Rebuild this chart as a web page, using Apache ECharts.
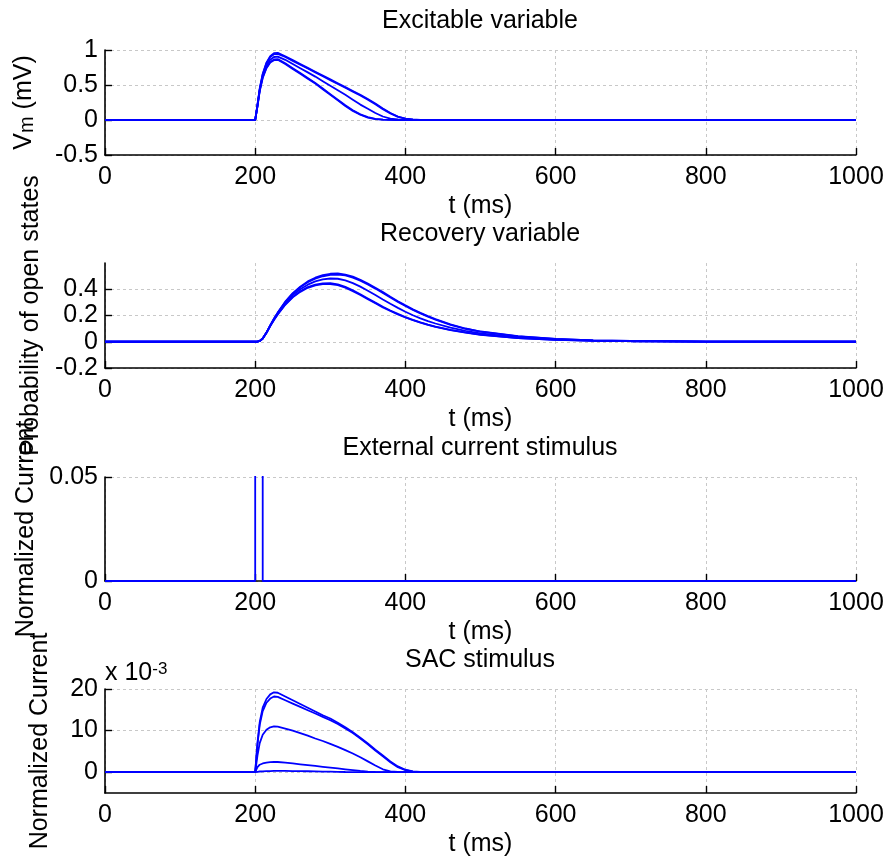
<!DOCTYPE html>
<html><head><meta charset="utf-8">
<script src="https://cdn.jsdelivr.net/npm/echarts@6/dist/echarts.min.js"></script>
<style>html,body{margin:0;padding:0;background:#fff}#c{width:890px;height:856px}</style>
</head><body><div id="c"></div>
<script>
// time points (ms)
const tMs = [0,200,203,206,210,215,220,225,230,240,250,260,270,280,290,300,310,320,330,340,350,360,370,380,390,400,410,420,430,440,460,480,500,550,600,650,700,800,900,1000];
const xTicks = [0,200,400,600,800,1000];

// Excitable variable Vm (mV), five traces
const vmA = [0,0,0.22,0.45,0.66,0.82,0.91,0.955,0.96,0.91,0.855,0.80,0.745,0.69,0.635,0.58,0.525,0.47,0.415,0.36,0.30,0.235,0.165,0.10,0.05,0.02,0.007,0.002,0.001,0,0,0,0,0,0,0,0,0,0,0];
const vmB = [0,0,0.21,0.44,0.65,0.81,0.90,0.94,0.945,0.90,0.845,0.79,0.735,0.68,0.625,0.57,0.515,0.46,0.405,0.35,0.29,0.225,0.155,0.095,0.045,0.018,0.006,0.002,0.001,0,0,0,0,0,0,0,0,0,0,0];
const vmC = [0,0,0.20,0.43,0.63,0.78,0.86,0.90,0.905,0.86,0.80,0.74,0.68,0.62,0.555,0.49,0.425,0.36,0.29,0.22,0.16,0.10,0.05,0.02,0.007,0.002,0,0,0,0,0,0,0,0,0,0,0,0,0,0];
const vmD = [0,0,0.20,0.42,0.61,0.75,0.83,0.865,0.87,0.81,0.74,0.67,0.60,0.53,0.45,0.37,0.29,0.21,0.14,0.08,0.04,0.015,0.005,0.001,0,0,0,0,0,0,0,0,0,0,0,0,0,0,0,0];
const vmE = [0,0,0.19,0.41,0.60,0.74,0.82,0.855,0.86,0.80,0.73,0.66,0.59,0.52,0.44,0.36,0.28,0.20,0.13,0.075,0.035,0.012,0.004,0.001,0,0,0,0,0,0,0,0,0,0,0,0,0,0,0,0];

// Recovery variable (probability of open states)
const rA = [0,0,0.001,0.006,0.025,0.07,0.125,0.175,0.222,0.305,0.37,0.42,0.46,0.488,0.507,0.518,0.52,0.512,0.496,0.472,0.443,0.412,0.378,0.343,0.309,0.277,0.247,0.22,0.195,0.172,0.132,0.101,0.078,0.042,0.022,0.011,0.006,0.0015,0.0004,0.0001];
const rB = [0,0,0.001,0.006,0.025,0.07,0.125,0.175,0.221,0.302,0.366,0.415,0.453,0.48,0.499,0.51,0.512,0.505,0.489,0.465,0.436,0.405,0.371,0.337,0.304,0.272,0.243,0.216,0.191,0.169,0.129,0.099,0.077,0.041,0.021,0.011,0.006,0.0015,0.0004,0];
const rC = [0,0,0.001,0.006,0.025,0.07,0.123,0.172,0.217,0.295,0.355,0.40,0.435,0.46,0.475,0.482,0.48,0.468,0.447,0.42,0.389,0.356,0.322,0.289,0.258,0.229,0.202,0.178,0.157,0.139,0.107,0.083,0.064,0.033,0.017,0.009,0.005,0.001,0.0003,0];
const rD = [0,0,0.001,0.006,0.024,0.068,0.12,0.168,0.21,0.285,0.342,0.385,0.417,0.436,0.445,0.446,0.437,0.418,0.392,0.362,0.33,0.298,0.267,0.238,0.212,0.188,0.167,0.148,0.131,0.116,0.091,0.071,0.055,0.028,0.015,0.008,0.004,0.001,0.0003,0];
const rE = [0,0,0.001,0.006,0.024,0.067,0.119,0.166,0.208,0.282,0.338,0.38,0.411,0.43,0.439,0.44,0.431,0.412,0.386,0.356,0.324,0.293,0.262,0.234,0.208,0.185,0.164,0.146,0.129,0.114,0.089,0.069,0.053,0.027,0.014,0.007,0.004,0.001,0.0003,0];

// External current stimulus (pulse, clipped by the axis)
const extT = [0,200,200,210,210,1000];
const extI = [0,0,0.1,0.1,0,0];

// SAC stimulus, in units of 1e-3
const sacA = [0,0,7,12,15.5,17.6,18.7,19.2,19.1,18.2,17.3,16.4,15.5,14.6,13.7,12.9,11.9,10.8,9.6,8.3,6.9,5.4,4.0,2.6,1.4,0.6,0.2,0.07,0.02,0,0,0,0,0,0,0,0,0,0,0];
const sacB = [0,0,6.6,11.4,14.7,16.7,17.7,18.2,18.1,17.3,16.5,15.7,14.9,14.1,13.3,12.5,11.6,10.5,9.4,8.1,6.7,5.2,3.8,2.4,1.2,0.5,0.15,0.05,0.01,0,0,0,0,0,0,0,0,0,0,0];
const sacC = [0,0,4,7,9,10.2,10.8,11.0,10.95,10.5,10.0,9.4,8.8,8.1,7.5,6.8,6.1,5.3,4.5,3.6,2.6,1.6,0.7,0.2,0.05,0,0,0,0,0,0,0,0,0,0,0,0,0,0,0];
const sacD = [0,0,1.2,1.8,2.1,2.3,2.4,2.45,2.45,2.3,2.1,1.9,1.7,1.5,1.3,1.1,0.9,0.7,0.5,0.3,0.15,0.06,0.02,0,0,0,0,0,0,0,0,0,0,0,0,0,0,0,0,0];
const sacE = [0,0,0.1,0.17,0.22,0.26,0.28,0.3,0.3,0.3,0.28,0.26,0.23,0.2,0.16,0.12,0.08,0.05,0.03,0.01,0,0,0,0,0,0,0,0,0,0,0,0,0,0,0,0,0,0,0,0];

const vmTicks = [-0.5,0,0.5,1];
const rTicks = [-0.2,0,0.2,0.4];
const extTicks = [0,0.05];
const sacTicks = [0,10,20];

const FONT = "'Liberation Sans', Arial, Helvetica, sans-serif";
const FS = 25;
const BLUE = '#0000ff';
const plotTops = [50,263,477,689];
const plotH = [105,105,104,104];

const chart = echarts.init(document.getElementById('c'));

function fmt(v){ return String(+v.toFixed(6)); }

function xAx(i){
  return {
    type:'value', gridIndex:i, min:0, max:1000, interval:200,
    axisLine:{show:true, onZero:false, lineStyle:{color:'#000', width:1.6}},
    axisTick:{show:true, inside:true, length:7, customValues:xTicks, lineStyle:{color:'#000', width:1.4}},
    axisLabel:{color:'#000', fontSize:FS, fontFamily:FONT, margin:10, customValues:xTicks, formatter:fmt},
    splitLine:{show:true, lineStyle:{color:'#c8c8c8', type:[3,3], width:1}},
    name:'t (ms)', nameLocation:'middle', nameGap:39,
    nameTextStyle:{color:'#000', fontSize:FS, fontFamily:FONT}
  };
}
function yAx(i, min, max, interval, ticks, name, gap, rich){
  return {
    type:'value', gridIndex:i, min:min, max:max, interval:interval,
    axisLine:{show:true, onZero:false, lineStyle:{color:'#000', width:1.6}},
    axisTick:{show:true, inside:true, length:7, customValues:ticks, lineStyle:{color:'#000', width:1.4}},
    axisLabel:{color:'#000', fontSize:FS, fontFamily:FONT, margin:7, customValues:ticks, formatter:fmt},
    splitLine:{show:true, lineStyle:{color:'#c8c8c8', type:[3,3], width:1}},
    name:name, nameLocation:'middle', nameGap:gap,
    nameTextStyle:Object.assign({color:'#000', fontSize:FS, fontFamily:FONT}, rich ? {rich:rich} : {})
  };
}

function lines(i, xs, arrs){
  return arrs.map(a => ({
    type:'line', xAxisIndex:i, yAxisIndex:i, showSymbol:false, symbol:'none',
    clip:true, animation:false, silent:true,
    lineStyle:{color:BLUE, width:1.8}, itemStyle:{color:BLUE},
    data: xs.map((t,k)=>[t, a[k]])
  }));
}

const titles = ['Excitable variable','Recovery variable','External current stimulus','SAC stimulus'].map((s,i)=>({
  text:s, left:480, top:plotTops[i]-41, textAlign:'center', padding:0,
  textStyle:{color:'#000', fontSize:FS, fontWeight:'normal', fontFamily:FONT}
}));
titles.push({
  text:'x 10{sup|-3}', left:105, top:661, padding:0,
  textStyle:{color:'#000', fontSize:FS, fontWeight:'normal', fontFamily:FONT,
    rich:{sup:{fontSize:17, fontFamily:FONT, color:'#000', verticalAlign:'top', lineHeight:17, padding:[0,0,18,0]}}}
});

const vmRich = {
  v:{fontSize:FS, fontFamily:FONT, color:'#000', verticalAlign:'top', lineHeight:FS},
  sub:{fontSize:20, fontFamily:FONT, color:'#000', verticalAlign:'bottom', lineHeight:20, padding:[13,0,0,0]}
};

const option = {
  backgroundColor:'#fff',
  animation:false,
  title:titles,
  grid: plotTops.map((t,i)=>({left:105, right:34, top:t, height:plotH[i], containLabel:false, outerBoundsMode:'none'})),
  xAxis:[0,1,2,3].map(xAx),
  yAxis:[
    yAx(0,-0.5,1,0.5,vmTicks,'{v|V}{sub|m}{v| (mV)}',68,vmRich),
    yAx(1,-0.2,0.6,0.2,rTicks,'Probability of open states',56),
    yAx(2,0,0.05,0.05,extTicks,'Normalized Current',62),
    yAx(3,-5,20,5,sacTicks,'Normalized Current',52)
  ],
  series:[].concat(
    lines(0,tMs,[vmA,vmB,vmC,vmD,vmE]),
    lines(1,tMs,[rA,rB,rC,rD,rE]),
    lines(2,extT,[extI]),
    lines(3,tMs,[sacA,sacB,sacC,sacD,sacE])
  )
};
chart.setOption(option);
</script></body></html>
